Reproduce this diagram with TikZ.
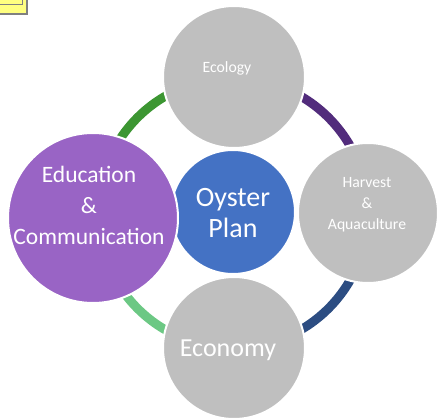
\documentclass[tikz,border=0pt]{standalone}
\usepackage{fontspec}
\setmainfont{Carlito}
\definecolor{ringA}{HTML}{3C9632}
\definecolor{ringB}{HTML}{522C7C}
\definecolor{ringC}{HTML}{2C4D82}
\definecolor{ringD}{HTML}{6CC884}
\definecolor{grayC}{HTML}{BFBFBF}
\definecolor{blueC}{HTML}{4472C4}
\definecolor{purpC}{HTML}{9964C5}
\definecolor{noteY}{HTML}{FFFF80}
\definecolor{noteG}{HTML}{808080}
\tikzset{
  bubble/.style={circle, inner sep=0pt, draw=white, line width=2pt},
  txt/.style={text=white, align=center, inner sep=0pt},
  seg/.style={line width=9pt},
}
\begin{document}
\begin{tikzpicture}[x=1pt,y=-1pt]
\useasboundingbox (0,0) rectangle (440,418);
% note marker
\draw[noteG, line width=2pt, fill=noteY] (-5,-5) rectangle (27,14);
\draw[noteG, line width=1pt] (-5,4.5) -- (22,4.5) -- (22,-5);
% ring
\coordinate (c) at (233,213);
\draw[seg, ringA] (c) ++(90:-135) arc[start angle=-90, end angle=-180, radius=135];
\draw[seg, ringB] (c) ++(0:135) arc[start angle=0, end angle=-90, radius=135];
\draw[seg, ringC] (c) ++(0:135) arc[start angle=0, end angle=90, radius=135];
\draw[seg, ringD] (c) ++(90:135) arc[start angle=90, end angle=180, radius=135];
% circles
\node[bubble, fill=blueC, minimum size=124pt] (oy) at (233,212) {};
\node[bubble, fill=grayC, minimum size=142pt] (eco) at (234,77) {};
\node[bubble, fill=grayC, minimum size=140pt] (harv) at (368,213) {};
\node[bubble, fill=grayC, minimum size=142pt] (econ) at (234,348) {};
\node[bubble, fill=purpC, minimum size=170pt] (edu) at (93,218) {};
% texts
\node[txt, font=\fontsize{28}{31}\selectfont] (oyT) at (233,213) {Oyster\\Plan};
\node[txt, font=\fontsize{15.7}{21}\selectfont] (ecoT) at (227,68) {Ecology};
\node[txt, font=\fontsize{15.7}{21}\selectfont] (harvT) at (367,205) {Harvest\\\&\\Aquaculture};
\node[txt, font=\fontsize{26}{30}\selectfont] (econT) at (228,350) {Economy};
\node[txt, font=\fontsize{23.5}{31}\selectfont] (eduT) at (89,205) {Education\\\&\\Communication};
\end{tikzpicture}
\end{document}
